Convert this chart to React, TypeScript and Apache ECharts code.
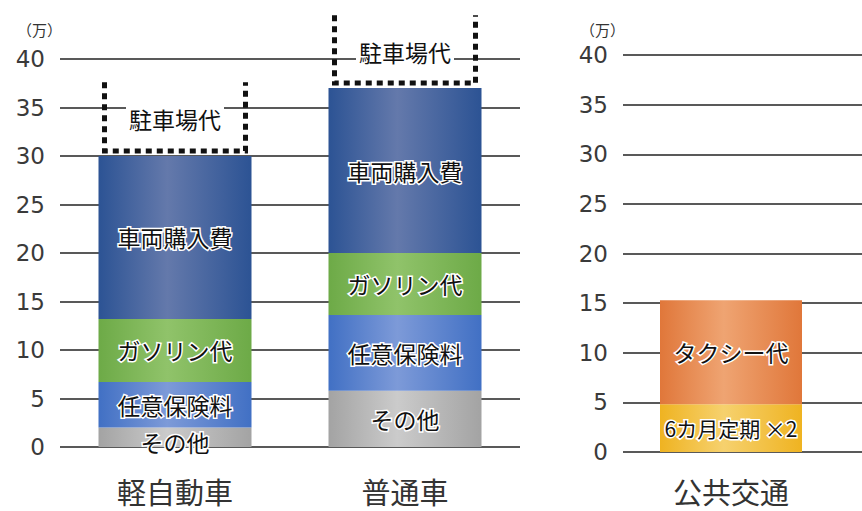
import React, { useEffect, useRef } from "react";
import * as echarts from "echarts";

const categories = ["軽自動車", "普通車"];
const otherCost = [2.0, 5.8];
const insurance = [4.7, 7.8];
const gasoline = [6.5, 6.4];
const vehicle = [16.8, 17.0];
const parking = [7.6, 7.5];

const publicCategories = ["公共交通"];
const commuterPass = [4.8];
const taxi = [10.5];

const yMin = 0;
const yMax = 40;
const yInterval = 5;
const unitLabel = "（万）";

const JP = "'Noto Sans CJK JP', 'Noto Sans', sans-serif";

function grad(edge: string, mid: string) {
  return new echarts.graphic.LinearGradient(0, 0, 1, 0, [
    { offset: 0, color: edge },
    { offset: 0.45, color: mid },
    { offset: 1, color: edge },
  ]);
}

const barLabel = {
  show: true,
  position: "inside",
  formatter: "{a}",
  fontSize: 23,
  fontFamily: JP,
  color: "#111",
  textBorderColor: "#fff",
  textBorderWidth: 3,
};

export default function App() {
  const ref = useRef<HTMLDivElement>(null);
  useEffect(() => {
    if (!ref.current) return;
    const chart = echarts.init(ref.current, undefined, { renderer: "svg" });

    const baseParking = categories.map(
      (_, i) => otherCost[i] + insurance[i] + gasoline[i] + vehicle[i]
    );
    const outlineData = categories.map((_, i) => [
      i,
      baseParking[i],
      baseParking[i] + parking[i],
    ]);

    const yAxisCommon = {
      type: "value",
      min: yMin,
      max: yMax,
      interval: yInterval,
      axisLine: { show: false },
      axisTick: { show: false },
      axisLabel: {
        fontSize: 23,
        fontFamily: "'DejaVu Sans', sans-serif",
        color: "#3a3a3a",
        margin: 15,
      },
      splitLine: { show: true, lineStyle: { color: "#222", width: 1.5 } },
    };

    const xAxisCommon = {
      type: "category",
      axisLine: { show: false },
      axisTick: { show: false },
      axisLabel: {
        fontSize: 29,
        fontFamily: JP,
        color: "#333",
        margin: 29,
      },
    };

    const option: any = {
      animation: false,
      grid: [
        { left: 60, top: 59, width: 460, height: 388 },
        { left: 623, top: 55, width: 216, height: 397 },
        { left: 623, top: 55, right: 0, height: 397 },
      ],
      xAxis: [
        { ...xAxisCommon, gridIndex: 0, data: categories },
        {
          ...xAxisCommon,
          gridIndex: 1,
          data: publicCategories,
          axisLabel: { ...xAxisCommon.axisLabel, margin: 24 },
        },
        {
          ...xAxisCommon,
          gridIndex: 2,
          data: [""],
          axisLabel: { show: false },
        },
      ],
      yAxis: [
        { ...yAxisCommon, gridIndex: 0 },
        {
          ...yAxisCommon,
          gridIndex: 1,
          axisLabel: { show: false },
          splitLine: { show: false },
        },
        { ...yAxisCommon, gridIndex: 2 },
      ],
      graphic: [
        {
          type: "text",
          left: 17,
          top: 22,
          style: { text: unitLabel, fontSize: 15, fontFamily: JP, fill: "#333" },
        },
        {
          type: "text",
          left: 580,
          top: 22,
          style: { text: unitLabel, fontSize: 15, fontFamily: JP, fill: "#333" },
        },
      ],
      series: [
        {
          name: "その他",
          type: "bar",
          stack: "car",
          xAxisIndex: 0,
          yAxisIndex: 0,
          barWidth: 153,
          data: otherCost.map((v, i) =>
            i === 0 ? { value: v, label: { offset: [0, 5] } } : v
          ),
          itemStyle: { color: grad("#a3a3a3", "#cbcbcb") },
          label: barLabel,
        },
        {
          name: "任意保険料",
          type: "bar",
          stack: "car",
          xAxisIndex: 0,
          yAxisIndex: 0,
          barWidth: 153,
          data: insurance,
          itemStyle: { color: grad("#4170c4", "#7d9ad8") },
          label: barLabel,
        },
        {
          name: "ガソリン代",
          type: "bar",
          stack: "car",
          xAxisIndex: 0,
          yAxisIndex: 0,
          barWidth: 153,
          data: gasoline,
          itemStyle: { color: grad("#6daa47", "#90c36a") },
          label: barLabel,
        },
        {
          name: "車両購入費",
          type: "bar",
          stack: "car",
          xAxisIndex: 0,
          yAxisIndex: 0,
          barWidth: 153,
          data: vehicle,
          itemStyle: { color: grad("#2c5394", "#6479ab") },
          label: barLabel,
        },
        {
          name: "駐車場代",
          type: "bar",
          stack: "car",
          xAxisIndex: 0,
          yAxisIndex: 0,
          barWidth: 153,
          clip: false,
          data: parking,
          itemStyle: { color: "rgba(0,0,0,0)" },
          label: {
            show: true,
            position: "inside",
            formatter: "{a}",
            fontSize: 23,
            fontFamily: JP,
            color: "#111",
            backgroundColor: "#fff",
            padding: [1, 3],
          },
        },
        {
          name: "駐車場代枠",
          type: "custom",
          xAxisIndex: 0,
          yAxisIndex: 0,
          clip: false,
          z: 5,
          data: outlineData,
          encode: { x: 0, y: [1, 2] },
          renderItem: (params: any, api: any) => {
            const idx = api.value(0);
            const pBase = api.coord([idx, api.value(1)]);
            const pTop = api.coord([idx, api.value(2)]);
            const half = 153 / 2;
            const xl = pBase[0] - half + 6;
            const xr = pBase[0] + half - 6;
            const yb = pBase[1] - 5;
            return {
              type: "polyline",
              shape: {
                points: [
                  [xl, pTop[1]],
                  [xl, yb],
                  [xr, yb],
                  [xr, pTop[1]],
                ],
              },
              style: {
                stroke: "#111",
                lineWidth: 5,
                lineDash: [6, 5],
                fill: null,
              },
            };
          },
        },
        {
          name: "6カ月定期 ×2",
          type: "bar",
          stack: "public",
          xAxisIndex: 1,
          yAxisIndex: 1,
          barWidth: 142,
          data: commuterPass,
          itemStyle: { color: grad("#efb321", "#f6d16e") },
          label: { ...barLabel, fontSize: 21 },
        },
        {
          name: "タクシー代",
          type: "bar",
          stack: "public",
          xAxisIndex: 1,
          yAxisIndex: 1,
          barWidth: 142,
          data: taxi,
          itemStyle: { color: grad("#e0773a", "#efa472") },
          label: barLabel,
        },
      ],
    };
    chart.setOption(option);
    return () => chart.dispose();
  }, []);
  return (
    <div
      ref={ref}
      style={{
        position: "fixed",
        left: 0,
        top: 0,
        width: 862,
        height: 511,
        background: "#fff",
      }}
    />
  );
}
